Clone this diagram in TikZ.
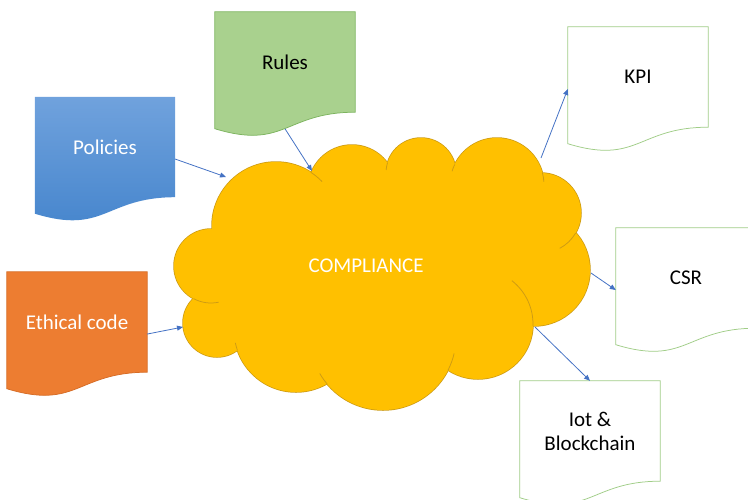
\documentclass[tikz,border=0pt]{standalone}
\usepackage{fontspec}
\setmainfont{Carlito}
\usetikzlibrary{calc}
\usetikzlibrary{arrows.meta}
\usetikzlibrary{backgrounds}
\definecolor{polTop}{RGB}{112,162,221}
\definecolor{polBot}{RGB}{68,132,204}
\definecolor{rulFill}{RGB}{169,209,142}
\definecolor{rulLine}{RGB}{125,180,95}
\definecolor{ethFill}{RGB}{237,125,49}
\definecolor{ethLine}{RGB}{214,108,38}
\definecolor{outLine}{RGB}{160,205,135}
\definecolor{wolkeFill}{RGB}{255,192,0}
\definecolor{wolkeLine}{RGB}{205,155,20}
\definecolor{pfeil}{RGB}{68,114,196}

\begin{document}
\begin{tikzpicture}[x=1pt,y=-1pt,font=\fontsize{21}{24}\selectfont,
  docbox/.style={minimum width=140,minimum height=100,inner sep=0,align=center},
  pfeilstil/.style={draw=pfeil,line width=0.8pt,-{Triangle[length=6pt,width=5pt]}}]
\useasboundingbox (0,0) rectangle (748,499);
\foreach \cx/\cy/\rad in {276/226/64,352/189/44,421/173/35,497/185/47,541/213/40,534/270/56,478/324/55,383/337/73,296/330/62,217/323/34,211/266/37}
  \filldraw[fill=wolkeFill,draw=wolkeLine,line width=1.5pt] (\cx,\cy) circle[radius=\rad];
\foreach \cx/\cy/\rad in {276/226/64,352/189/44,421/173/35,497/185/47,541/213/40,534/270/56,478/324/55,383/337/73,296/330/62,217/323/34,211/266/37}
  \fill[wolkeFill] (\cx,\cy) circle[radius=\rad];
\fill[wolkeFill] (385,262) ellipse[x radius=160,y radius=95];
\foreach \cx/\cy/\rad/\a/\b in {276/226/64/-57/-44,421/173/35/197/185,497/185/47/206/197,497/185/47/-15/-4,541/213/40/30/62,478/324/55/2/-52,383/337/73/27/13,383/337/73/140/150,211/266/37/118/78,296/330/62/161/168}
  \draw[wolkeLine,line width=0.75pt] ($(\cx,\cy)+(\a:\rad)$) arc[start angle=\a,end angle=\b,radius=\rad];
\node[text=white] (comp) at (366,266) {COMPLIANCE};
\node[docbox,text=white] (pol) at (105,147) {Policies};
\node[docbox] (rul) at (285,62) {Rules};
\node[docbox,text=white] (eth) at (77,322) {Ethical code};
\node[docbox] (kpi) at (638,77) {KPI};
\node[docbox] (csr) at (686,278) {CSR};
\node[docbox] (iot) at (590,431) {Iot \&\\Blockchain};
\begin{scope}[on background layer]
\shade[top color=polTop,bottom color=polBot] (pol.north west) -- (pol.north east) -- (pol.south east) .. controls (pol.south) and ($(pol.south)+(0,38)$) .. ($(pol.south west)+(0,16.5)$) -- cycle;
\foreach \n/\f/\l in {rul/rulFill/rulLine,eth/ethFill/ethLine,kpi/white/outLine,csr/white/outLine,iot/white/outLine}
  \filldraw[fill=\f,draw=\l,line width=0.75pt] (\n.north west) -- (\n.north east) -- (\n.south east) .. controls (\n.south) and ($(\n.south)+(0,38)$) .. ($(\n.south west)+(0,16.5)$) -- cycle;
\end{scope}
\coordinate (inPol) at (226,177);
\coordinate (inRul) at (312,171);
\coordinate (inEth) at (183,327);
\coordinate (outKpi) at (541,158);
\coordinate (outCsr) at (591,273);
\coordinate (outIot) at (535,327);
\draw[pfeilstil] ($(pol.north east)!0.62!(pol.south east)$) -- (inPol);
\draw[pfeilstil] ($(rul.north)!1.165!(rul.south)$) -- (inRul);
\draw[pfeilstil] ($(eth.north east)!0.62!(eth.south east)$) -- (inEth);
\draw[pfeilstil] (outKpi) -- ($(kpi.north west)!0.62!(kpi.south west)$);
\draw[pfeilstil] (outCsr) -- ($(csr.north west)!0.62!(csr.south west)$);
\draw[pfeilstil] (outIot) -- (iot.north);
\end{tikzpicture}
\end{document}
